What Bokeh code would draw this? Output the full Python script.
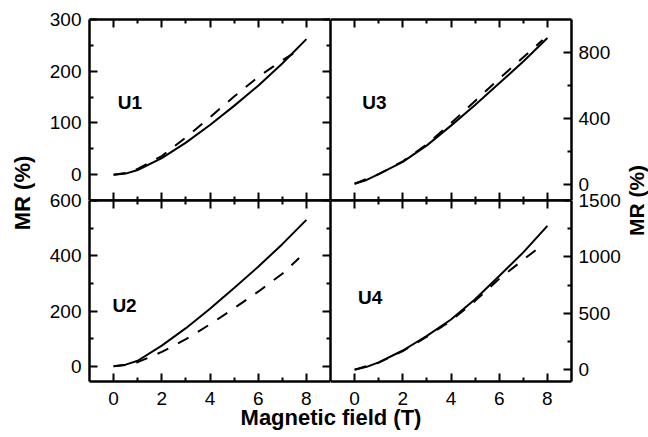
from bokeh.plotting import figure
from bokeh.models import Range1d, LinearAxis, FixedTicker, Label
from bokeh.layouts import row, column
from bokeh.embed import file_html
from bokeh.resources import INLINE

# ---------------- data ----------------
field_u1_solid = [0, 0.5, 1, 2, 3, 4, 5, 6, 7, 8]
mr_u1_solid = [0, 2, 9, 32, 62, 96, 133, 172, 215, 262]
field_u1_dash = [0, 0.5, 1, 2, 3, 4, 5, 6, 7, 7.8]
mr_u1_dash = [0, 3, 11, 36, 72, 111, 151, 189, 221, 244]

field_u3_solid = [0, 0.5, 1, 2, 3, 4, 5, 6, 7, 8]
mr_u3_solid = [2, 25, 60, 135, 235, 355, 480, 612, 745, 888]
field_u3_dash = [0, 1, 2, 3, 4, 5, 6, 7, 7.8]
mr_u3_dash = [2, 60, 138, 242, 370, 505, 640, 770, 875]

field_u2_solid = [0, 0.5, 1, 2, 3, 4, 5, 6, 7, 8]
mr_u2_solid = [0, 6, 20, 75, 138, 208, 283, 360, 442, 530]
field_u2_dash = [0, 0.5, 1, 2, 3, 4, 5, 6, 7, 7.7]
mr_u2_dash = [0, 5, 15, 52, 98, 152, 210, 270, 335, 392]

field_u4_solid = [0, 0.5, 1, 2, 3, 4, 5, 6, 7, 8]
mr_u4_solid = [0, 25, 65, 170, 300, 445, 625, 830, 1040, 1275]
field_u4_dash = [0, 1, 2, 3, 4, 5, 6, 7, 7.7]
mr_u4_dash = [0, 62, 165, 292, 435, 610, 805, 975, 1090]

x_major = [0, 2, 4, 6, 8]
x_minor = [1, 3, 5, 7]
u1_major, u1_minor = [0, 100, 200, 300], [50, 150, 250]
u3_major, u3_minor = [0, 400, 800], [200, 600]
u2_major, u2_minor = [0, 200, 400, 600], [100, 300, 500]
u4_major, u4_minor = [0, 500, 1000, 1500], [250, 750, 1250]

FONT = "Liberation Sans"
TICK_FS = "19px"


def make_axis(major, minor, labels, standoff=8, ticks=True):
    ax = LinearAxis(ticker=FixedTicker(ticks=major if ticks else [], minor_ticks=minor if ticks else []))
    ax.axis_line_color = "black"
    ax.axis_line_width = 2.5
    ax.major_tick_in = 8
    ax.major_tick_out = 0
    ax.minor_tick_in = 4
    ax.minor_tick_out = 0
    ax.major_tick_line_color = "black"
    ax.minor_tick_line_color = "black"
    ax.major_tick_line_width = 2
    ax.minor_tick_line_width = 2
    if labels:
        ax.major_label_text_font = FONT
        ax.major_label_text_font_size = TICK_FS
        ax.major_label_text_color = "black"
        ax.major_label_standoff = standoff
    else:
        ax.major_label_text_font_size = "0px"
        ax.major_label_standoff = 0
        ax.major_label_overrides = {t: "" for t in major}
    return ax


def panel(xs, ys, xd, yd, yr, ymaj, ymin, side, bottom_labels, name, lx, ly,
          top, bottom, left, right, margin=None):
    kw = dict(frame_width=241, frame_height=181,
              x_range=Range1d(-1, 9), y_range=Range1d(*yr),
              output_backend="svg", toolbar_location=None,
              x_axis_location=None, y_axis_location=None,
              min_border_top=top, min_border_bottom=bottom,
              min_border_left=left, min_border_right=right,
              outline_line_color=None, border_fill_alpha=0)
    if margin is not None:
        kw["margin"] = margin
    p = figure(**kw)
    for g in p.grid:
        g.visible = False
    p.line(xs, ys, line_color="black", line_width=2)
    p.line(xd, yd, line_color="black", line_width=2, line_dash="12 11")
    p.add_layout(make_axis(x_major, x_minor, False), "above")
    p.add_layout(make_axis(x_major, x_minor, bottom_labels, standoff=10), "below")
    if side == "left":
        p.add_layout(make_axis(ymaj, ymin, True, standoff=8), "left")
        p.add_layout(make_axis(ymaj, ymin, False), "right")
    else:
        p.add_layout(make_axis(ymaj, ymin, False, ticks=False), "left")
        p.add_layout(make_axis(ymaj, ymin, True, standoff=7), "right")
    p.add_layout(Label(x=lx, y=ly, text=name, text_font=FONT, text_font_style="bold",
                       text_font_size="19px", text_color="black",
                       text_align="left", text_baseline="alphabetic"))
    return p


def label_fig(w, h, text, x, y, angle, size, margin=None):
    kw = dict(width=w, height=h, x_range=Range1d(0, w), y_range=Range1d(0, h),
              output_backend="svg", toolbar_location=None,
              x_axis_location=None, y_axis_location=None, min_border=0,
              outline_line_color=None, border_fill_alpha=0, background_fill_alpha=0)
    if margin is not None:
        kw["margin"] = margin
    p = figure(**kw)
    for g in p.grid:
        g.visible = False
    p.add_layout(Label(x=x, y=y, text=text, angle=angle, angle_units="deg",
                       text_font=FONT, text_font_style="bold", text_font_size=size,
                       text_color="black", text_align="center",
                       text_baseline="middle"))
    return p


tl = panel(field_u1_solid, mr_u1_solid, field_u1_dash, mr_u1_dash, (-50, 300),
           u1_major, u1_minor, "left", False, "U1", 0.17, 139, 19, 0, 42, 0)
tr = panel(field_u3_solid, mr_u3_solid, field_u3_dash, mr_u3_dash, (-100, 1000),
           u3_major, u3_minor, "right", False, "U3", 0.32, 496, 19, 0, 0, 52)
bl = panel(field_u2_solid, mr_u2_solid, field_u2_dash, mr_u2_dash, (-55, 600),
           u2_major, u2_minor, "left", True, "U2", -0.05, 219, 12, 32, 42, 0,
           margin=(-12, 0, 0, 0))
br = panel(field_u4_solid, mr_u4_solid, field_u4_dash, mr_u4_dash, (-105, 1500),
           u4_major, u4_minor, "right", True, "U4", 0.14, 639, 12, 32, 0, 52,
           margin=(-12, 0, 0, 0))

H = 436
left_lbl = label_fig(46, H, "MR (%)", 22, H - 192.5, 90, "22px")
right_lbl = label_fig(26, H, "MR (%)", 13, H - 200, 90, "21px")
x_lbl = label_fig(576, 35, "Magnetic field (T)", 284.5, 19, 0, "22px",
                  margin=(-12, 0, 0, 0))

grid = column(row(column(tl, bl), column(tr, br)), x_lbl)
layout = row(left_lbl, grid, right_lbl)

open("out.html", "w").write(file_html(layout, INLINE))
